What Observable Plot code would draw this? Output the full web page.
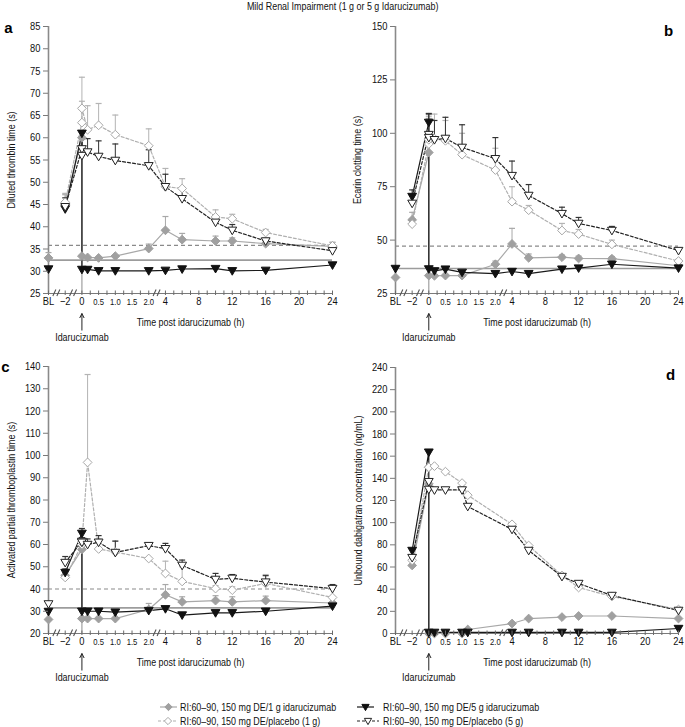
<!DOCTYPE html>
<html><head><meta charset="utf-8">
<script src="https://cdn.jsdelivr.net/npm/d3@7"></script>
<script src="https://cdn.jsdelivr.net/npm/@observablehq/plot@0.6"></script>
<style>
body{margin:0;background:#fff;}
#wrap{position:relative;width:685px;height:727px;overflow:hidden;font-family:"Liberation Sans",Arial,sans-serif;}
.panel{position:absolute;}
#title{position:absolute;top:0;left:0;width:685px;text-align:center;font-size:10.5px;line-height:12px;color:#111;}
#title span{display:inline-block;transform:scaleX(0.85);transform-origin:center;}
#legend{position:absolute;left:0;top:695px;}
</style></head><body>
<div id="wrap"><div id="title"><span>Mild Renal Impairment (1 g or 5 g Idarucizumab)</span></div></div>
<script>
const FONT = '"Liberation Sans", Arial, sans-serif';
const CONDENSE = 0.85;

// ---- axis tick labels ----
const tickTimes = ["BL", -2, 0, 0.5, 1, 1.5, 2, 4, 8, 12, 16, 20, 24];
const tickLabels = ["BL", "\u22122", "0", "0.5", "1.0", "1.5", "2.0", "4", "8", "12", "16", "20", "24"];
const smallLabels = ["0.5", "1.0", "1.5", "2.0"];

// ---- sampling times (two entries at 0: before / after idarucizumab) ----
const timesMain = ["BL", -2, 0, 0, 0.17, 0.5, 1, 2, 4, 6, 10, 12, 16, 24];
const timesD    = ["BL", -2, 0, 0, 0.17, 0.5, 1, 1.17, 4, 6, 10, 12, 16, 24];

// ---- Panel a: diluted thrombin time (s) ----
const aIdaru1    = [33, 45, 60, 33.4, 33.1, 33, 33.4, 35.1, 39.2, 37.1, 36.8, 36.8, 36.2, 35.6];
const aIdaru1Err = [34.2, 47.2, null, null, null, null, null, 36.1, 42.3, 38.5, 37.9, 37.5, 36.8, 36.5];
const aPlac1     = [null, 45.5, 63.4, 66.6, 61.8, 62.8, 60.7, 58.2, 49, 48.6, 42.2, 41.8, 38.7, 35.7];
const aPlac1Err  = [null, 47.5, 68.2, 73.6, 67.2, 67.7, 65.1, 62, 53.1, 50.8, 43.8, 42.8, 39.4, 36.5];
const aIdaru5    = [30.5, 44, 61, 30.4, 30.4, 30.1, 30.1, 30.1, 30.2, 30.5, 30.6, 30.1, 30.2, 31.4];
const aIdaru5Err = [null, 45, 61.6, null, null, null, null, null, null, null, null, null, null, null];
const aPlac5     = [null, 44.5, 57.5, 56, 56.8, 55.8, 54.9, 53.7, 49, 46.3, 41, 39.2, 36.8, 34.6];
const aPlac5Err  = [null, 46.5, 60, 59.8, 59.8, 59.3, 58.6, 57.3, 51.8, 48.8, 42.3, 40.5, 37.4, null];
const aRefs = [35.8, 32.5]; // dashed, solid

// ---- Panel b: ecarin clotting time (s) ----
const bIdaru1    = [32.5, 59.5, 91, 33.4, 33.3, 33.4, 33.4, 38.7, 48.2, 41.7, 42, 41.4, 41.3, 38];
const bIdaru1Err = [null, 63, null, null, null, null, null, 40.2, 55.5, 43.5, 43, 42.5, 42.3, null];
const bPlac1     = [null, 57.5, 95, 97, 97.5, 96.5, 90, 82.8, 68, 64, 54.5, 52.8, 48, 40.2];
const bPlac1Err  = [null, 60, 107, 108, 109, 106, 100, 93, 75, 66.2, 57.8, 55, 50, 41];
const bIdaru5    = [36.7, 70.4, 105.1, 36.5, 35.6, 36.4, 34.9, 34.3, 35.3, 34.3, 36.4, 36.9, 38.7, 36.9];
const bIdaru5Err = [null, 73.5, 109.3, null, null, null, null, null, null, null, null, null, null, null];
const bPlac5     = [null, 67.2, 99.4, 98, 97, 97.6, 93.4, 88.1, 80.2, 70.9, 62.4, 57.8, 54.5, 45.1];
const bPlac5Err  = [null, 71, 109, 106, 106, 107.5, 104, 98, 87, 76, 65.4, 60.6, 56.4, null];
const bRefs = [47.2, 36.7];

// ---- Panel c: activated partial thromboplastin time (s) ----
const cIdaru1    = [26.3, 46.1, 57.8, 26.7, 26.7, 26.7, 26.7, 30.8, 37.4, 34.2, 34.8, 34.2, 34.8, 33.7];
const cIdaru1Err = [null, 47.5, null, null, null, null, null, 33.5, 42, 36.5, 37, 36.5, 36.8, null];
const cPlac1     = [null, 45.2, 60, 61, 96.9, 58, 56.6, 53.7, 47, 43.4, 40.2, 39.5, 42.5, 36.2];
const cPlac1Err  = [null, null, null, null, 136.4, 62.5, 61.6, null, 52.5, 50, 41.5, 41, 46.5, null];
const cIdaru5    = [29.9, 47.4, 65, 30, 30, 30, 29.6, 30.3, 31.1, 28.3, 29.3, 29.3, 30, 32.3];
const cIdaru5Err = [null, 49, 67.2, null, null, null, null, null, null, null, null, null, null, null];
const cPlac5     = [33.3, 51.9, 61.4, 61, 60, 61, 56.4, 59.5, 58.1, 50.6, 44.3, 44.8, 43.1, 40.2];
const cPlac5Err  = [null, 54.6, 63, 63, 62.5, 64, 61.5, 60.5, 60.5, 53, 47, 46.5, 46, 42];
const cRefs = [40, 31.5];

// ---- Panel d: unbound dabigatran concentration (ng/mL) ----
const dIdaru1 = [null, 61.4, 135, 0, 0, 0, 0, 3.6, 9, 13.5, 14.8, 15.8, 15.8, 13.5];
const dPlac1  = [null, 66, 150, 150, 151, 146, 135.7, 124.8, 98.5, 79.4, 52.3, 41.5, 33.4, 21.7];
const dIdaru5 = [null, 74.9, 163.6, 1, 1, 1, 1, 1, 1, 1, 1, 1, 1, 4.5];
const dPlac5  = [null, 68.5, 137, 130, 129.5, 129.5, 129.5, 114.6, 93.9, 74.9, 51.4, 45.1, 34.3, 20.8];

// ---- broken time axis ----
function pos(t) {
  if (t === "BL") return 0;
  if (t < 0) return 1;
  if (t <= 2) return 2 + 2 * t;
  return 7 + (t - 4) / 2;
}
const breakPos = [0.5, 1.5, 6.5];
const minorTimes = d3.range(0, 2.001, 0.25).concat(d3.range(4, 24.001, 1));

// ---- symbols ----
const diamondSym = {draw(c, s) { const r = Math.sqrt(s / Math.PI) * 1.1; c.moveTo(0, -r); c.lineTo(r, 0); c.lineTo(0, r); c.lineTo(-r, 0); c.closePath(); }};
const triDownSym = {draw(c, s) { const r = Math.sqrt(s / Math.PI); c.moveTo(-r * 1.1, -r * 0.8); c.lineTo(r * 1.1, -r * 0.8); c.lineTo(0, r * 1.1); c.closePath(); }};
const capSym = {draw(c) { c.moveTo(-3, 0); c.lineTo(3, 0); }};
const tickSym = {draw(c) { c.moveTo(0, -3); c.lineTo(0, 1.5); }};
const breakSym = {draw(c) { c.moveTo(-4, 2.5); c.lineTo(-1, -4); c.moveTo(0, 2.5); c.lineTo(3, -4); }};
const arrowSym = {draw(c) { c.moveTo(0, 0); c.lineTo(0, 17); c.moveTo(-2.2, 4.5); c.lineTo(0, 0); c.lineTo(2.2, 4.5); }};

const seriesDefs = [
  {key: "idaru1", line: "#a8a8a8", dash: null, sym: diamondSym, fill: "#a0a0a0", stroke: "#a0a0a0", err: "#a8a8a8"},
  {key: "plac1", line: "#b0b0b0", dash: "3,2", sym: diamondSym, fill: "white", stroke: "#a8a8a8", err: "#b4b4b4"},
  {key: "idaru5", line: "#1a1a1a", dash: null, sym: triDownSym, fill: "#111", stroke: "#111", err: "#333"},
  {key: "plac5", line: "#222", dash: "3,2", sym: triDownSym, fill: "white", stroke: "#222", err: "#333"}
];

const panels = [
  {letter: "a", left: 0, top: 0, ml: 48, mr: 11, mt: 26, domain: [25, 85], yTicks: d3.range(25, 86, 5),
   label: "Diluted thrombin time (s)", labelDx: -37, times: timesMain, refs: aRefs,
   vals: {idaru1: aIdaru1, plac1: aPlac1, idaru5: aIdaru5, plac5: aPlac5},
   errs: {idaru1: aIdaru1Err, plac1: aPlac1Err, idaru5: aIdaru5Err, plac5: aPlac5Err},
   lAnchor: "top-left", ldx: -40, ldy: 1.5},
  {letter: "b", left: 343, top: 0, ml: 52, mr: 7, mt: 26, domain: [25, 150], yTicks: d3.range(25, 151, 25),
   label: "Ecarin clotting time (s)", labelDx: -38, times: timesMain, refs: bRefs,
   vals: {idaru1: bIdaru1, plac1: bPlac1, idaru5: bIdaru5, plac5: bPlac5},
   errs: {idaru1: bIdaru1Err, plac1: bPlac1Err, idaru5: bIdaru5Err, plac5: bPlac5Err},
   lAnchor: "top-right", ldx: -10, ldy: 4.5},
  {letter: "c", left: 0, top: 340, ml: 48, mr: 11, mt: 26, domain: [20, 140], yTicks: d3.range(20, 141, 10),
   label: "Activated partial thromboplastin time (s)", labelDx: -37, times: timesMain, refs: cRefs,
   vals: {idaru1: cIdaru1, plac1: cPlac1, idaru5: cIdaru5, plac5: cPlac5},
   errs: {idaru1: cIdaru1Err, plac1: cPlac1Err, idaru5: cIdaru5Err, plac5: cPlac5Err},
   lAnchor: "top-left", ldx: -43, ldy: 1},
  {letter: "d", left: 343, top: 340, ml: 52, mr: 7, mt: 27, domain: [0, 240], yTicks: d3.range(0, 241, 20),
   label: "Unbound dabigatran concentration (ng/mL)", labelDx: -37, times: timesD, refs: [],
   vals: {idaru1: dIdaru1, plac1: dPlac1, idaru5: dIdaru5, plac5: dPlac5},
   errs: {},
   lAnchor: "top-right", ldx: -8, ldy: 8}
];

const labelMap = new Map(tickTimes.map((t, i) => [pos(t), tickLabels[i]]));
const bigTicks = tickTimes.filter((t, i) => !smallLabels.includes(tickLabels[i])).map(pos);
const smallTicks = tickTimes.filter((t, i) => smallLabels.includes(tickLabels[i])).map(pos);
const allTickPos = Array.from(new Set(tickTimes.map(pos).concat(minorTimes.map(pos))));
const panelLetters = panels.map(p => p.letter);

// narrow the Arial-like face horizontally (the reference uses a condensed sans)
function condense(root) {
  root.querySelectorAll("text").forEach(el => {
    const s = el.textContent.trim();
    if (!s || panelLetters.includes(s)) return;
    const tr = el.getAttribute("transform") || "";
    el.setAttribute("transform", (tr + ` scale(${CONDENSE},1)`).trim());
  });
}

const wrap = document.getElementById("wrap");

for (const cfg of panels) {
  const y0 = cfg.domain[0];
  const rowsBy = {};
  for (const s of seriesDefs) {
    const vals = cfg.vals[s.key], errs = cfg.errs[s.key] || [];
    rowsBy[s.key] = [];
    vals.forEach((v, i) => {
      if (v == null) return;
      const t = cfg.times[i];
      rowsBy[s.key].push({p: pos(t), seg: t === "BL" ? 0 : 1, v, e: errs[i] == null ? null : errs[i]});
    });
  }
  const pre = cfg.vals.idaru1[2];
  const marks = [];
  if (cfg.refs.length) {
    marks.push(Plot.ruleY([cfg.refs[1]], {stroke: "#9c9c9c", strokeWidth: 1.6}));
    marks.push(Plot.ruleY([cfg.refs[0]], {stroke: "#8a8a8a", strokeWidth: 1.2, strokeDasharray: "4,3"}));
  }
  marks.push(Plot.ruleX([pre], {x: [pos(0)], y1: [y0], y2: [pre], stroke: "#a0a0a0", strokeWidth: 1.2}));
  marks.push(Plot.ruleY([y0], {stroke: "#7a7a7a", strokeWidth: 1.2}));
  marks.push(Plot.ruleX([0], {stroke: "#8a8a8a", strokeWidth: 1.6}));
  for (const s of seriesDefs) {
    marks.push(Plot.line(rowsBy[s.key], {x: "p", y: "v", z: "seg", stroke: s.line, strokeWidth: 1.2, strokeDasharray: s.dash || undefined}));
  }
  for (const s of seriesDefs) {
    const er = rowsBy[s.key].filter(r => r.e != null);
    marks.push(Plot.ruleX(er, {x: "p", y1: "v", y2: "e", stroke: s.err, strokeWidth: 1}));
    marks.push(Plot.dot(er, {x: "p", y: "e", symbol: capSym, stroke: s.err, fill: "none", strokeWidth: 1.2}));
  }
  for (const s of seriesDefs) {
    marks.push(Plot.dot(rowsBy[s.key], {x: "p", y: "v", symbol: s.sym, r: 4, fill: s.fill, stroke: s.stroke, strokeWidth: 1}));
  }
  marks.push(Plot.dot(allTickPos, {x: d => d, y: () => y0, symbol: tickSym, stroke: "#6a6a6a", fill: "none", strokeWidth: 1}));
  marks.push(Plot.dot(breakPos, {x: d => d, y: () => y0, symbol: breakSym, stroke: "#555", fill: "none", strokeWidth: 1.1}));
  marks.push(Plot.axisY({ticks: cfg.yTicks, tickSize: 5, tickPadding: 3, fontSize: 11, stroke: "#7a7a7a", label: null}));
  marks.push(Plot.axisX({ticks: bigTicks, tickFormat: p => labelMap.get(p), tickSize: 0, tickPadding: 4, fontSize: 11, label: null}));
  marks.push(Plot.axisX({ticks: smallTicks, tickFormat: p => labelMap.get(p), tickSize: 0, tickPadding: 5.5, fontSize: 9, label: null}));
  marks.push(Plot.text([cfg.label], {frameAnchor: "left", textAnchor: "middle", lineAnchor: "middle", rotate: -90, dx: cfg.labelDx, fontSize: 10.5, fill: "#111"}));
  marks.push(Plot.text(["Time post idarucizumab (h)"], {frameAnchor: "bottom", textAnchor: "middle", dy: 32, fontSize: 10.5, fill: "#111"}));
  marks.push(Plot.text(["Idarucizumab"], {x: [pos(0)], y: [y0], textAnchor: "middle", dy: 44, fontSize: 10.5, fill: "#111"}));
  marks.push(Plot.dot([0], {x: [pos(0)], y: [y0], dy: 20, symbol: arrowSym, stroke: "#222", fill: "none", strokeWidth: 1}));
  marks.push(Plot.text([cfg.letter], {frameAnchor: cfg.lAnchor, dx: cfg.ldx, dy: cfg.ldy, textAnchor: "middle", lineAnchor: "middle", fontSize: 15, fontWeight: "bold", fill: "#000"}));

  const width = cfg.left === 0 ? 343 : 342;
  const chart = Plot.plot({
    width, height: 345,
    marginLeft: cfg.ml, marginRight: cfg.mr, marginTop: cfg.mt, marginBottom: 52,
    x: {domain: [0, 17]},
    y: {domain: cfg.domain},
    style: {fontFamily: FONT, background: "transparent", overflow: "visible", color: "#111"},
    marks
  });
  chart.classList.add("panel");
  chart.style.left = cfg.left + "px";
  chart.style.top = cfg.top + "px";
  chart.style.position = "absolute";
  wrap.appendChild(chart);
  condense(chart);
}

// ---- legend ----
const legendItems = [
  {s: seriesDefs[0], text: "RI:60\u201390, 150 mg DE/1 g idarucizumab", x: 160, y: 12, w: 17, tx: 180},
  {s: seriesDefs[2], text: "RI:60\u201390, 150 mg DE/5 g idarucizumab", x: 357, y: 12, w: 17, tx: 383},
  {s: seriesDefs[1], text: "RI:60\u201390, 150 mg DE/placebo (1 g)", x: 158, y: 26, w: 20, tx: 180},
  {s: seriesDefs[3], text: "RI:60\u201390, 150 mg DE/placebo (5 g)", x: 357, y: 26, w: 22, tx: 383}
];
const lg = d3.select(wrap).append("svg").attr("id", "legend").attr("width", 685).attr("height", 32);
for (const it of legendItems) {
  lg.append("line").attr("x1", it.x).attr("x2", it.x + it.w).attr("y1", it.y).attr("y2", it.y)
    .attr("stroke", it.s.line).attr("stroke-width", 1.2).attr("stroke-dasharray", it.s.dash);
  const p = d3.path();
  it.s.sym.draw(p, 3.3 * 3.3 * Math.PI);
  lg.append("path").attr("d", p.toString()).attr("transform", `translate(${it.x + it.w / 2},${it.y})`)
    .attr("fill", it.s.fill).attr("stroke", it.s.stroke);
  lg.append("text").attr("transform", `translate(${it.tx},${it.y})`).attr("dy", "0.35em")
    .attr("font-size", 10.5).attr("font-family", FONT).attr("fill", "#111").text(it.text);
}
condense(lg.node());
</script>
</body></html>
